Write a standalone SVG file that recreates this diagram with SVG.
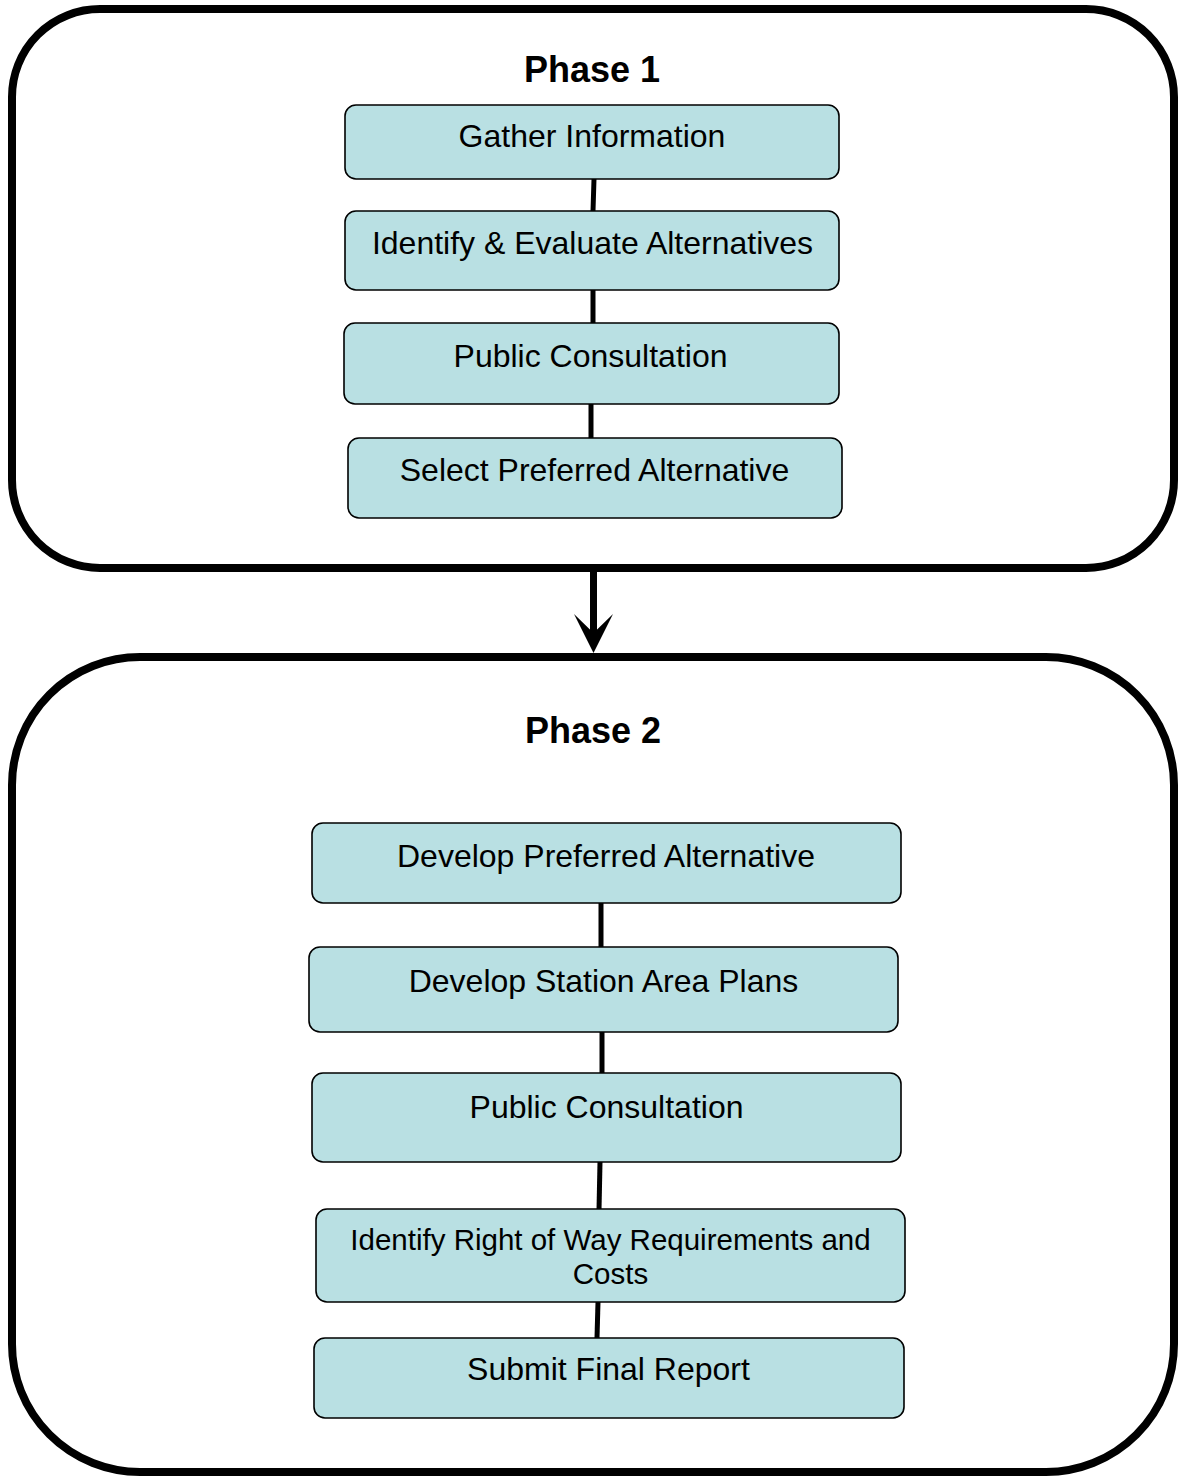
<svg xmlns="http://www.w3.org/2000/svg" width="1178" height="1477" viewBox="0 0 1178 1477">
<style>
.phase{fill:#ffffff;stroke:#000000;stroke-width:8}
.node rect{fill:#B9E0E3;stroke:#000000;stroke-width:1.6}
.lbl{font-family:"Liberation Sans",Arial,sans-serif;font-size:32px;fill:#000000;text-anchor:middle}
.small{font-size:29.5px}
.title{font-family:"Liberation Sans",Arial,sans-serif;font-size:36px;font-weight:bold;fill:#000000;text-anchor:middle}
.conn{stroke:#000000;stroke-width:5;fill:none}
</style>
<g id="phase1">
<rect class="phase" x="12" y="9" width="1162" height="559" rx="88" ry="88"/>
<text class="title" x="592" y="82">Phase 1</text>
</g>
<g id="phase2">
<rect class="phase" x="12" y="657" width="1162" height="815" rx="128" ry="128"/>
<text class="title" x="593" y="743">Phase 2</text>
</g>
<g id="connectors">
<line class="conn" x1="594" y1="179" x2="593" y2="211"/>
<line class="conn" x1="593" y1="290" x2="593" y2="323"/>
<line class="conn" x1="591" y1="404" x2="591" y2="438"/>
<line class="conn" x1="601" y1="903" x2="601" y2="947"/>
<line class="conn" x1="602" y1="1032" x2="602" y2="1075"/>
<line class="conn" x1="600" y1="1162" x2="599" y2="1210"/>
<line class="conn" x1="598" y1="1302" x2="597" y2="1338"/>
<line x1="593.5" y1="572" x2="593.5" y2="640" stroke="#000000" stroke-width="7"/>
<path d="M593.5,653 L574,614 L593.5,633 L613,614 Z" fill="#000000"/>
</g>
<g id="n1" class="node">
<rect x="345" y="105" width="494" height="74" rx="11"/>
<text class="lbl" x="592" y="147">Gather Information</text>
</g>
<g id="n2" class="node">
<rect x="345" y="211" width="494" height="79" rx="11"/>
<text class="lbl" x="592.5" y="254">Identify &amp; Evaluate Alternatives</text>
</g>
<g id="n3" class="node">
<rect x="344" y="323" width="495" height="81" rx="11"/>
<text class="lbl" x="590.5" y="367">Public Consultation</text>
</g>
<g id="n4" class="node">
<rect x="348" y="438" width="494" height="80" rx="11"/>
<text class="lbl" x="594.5" y="481">Select Preferred Alternative</text>
</g>
<g id="n5" class="node">
<rect x="312" y="823" width="589" height="80" rx="11"/>
<text class="lbl" x="606" y="867">Develop Preferred Alternative</text>
</g>
<g id="n6" class="node">
<rect x="309" y="947" width="589" height="85" rx="11"/>
<text class="lbl" x="603.5" y="992">Develop Station Area Plans</text>
</g>
<g id="n7" class="node">
<rect x="312" y="1073" width="589" height="89" rx="11"/>
<text class="lbl" x="606.5" y="1118">Public Consultation</text>
</g>
<g id="n8" class="node">
<rect x="316" y="1209" width="589" height="93" rx="11"/>
<text class="lbl small" x="610.5" y="1250">Identify Right of Way Requirements and</text>
<text class="lbl small" x="610.5" y="1284">Costs</text>
</g>
<g id="n9" class="node">
<rect x="314" y="1338" width="590" height="80" rx="11"/>
<text class="lbl" x="608.5" y="1380">Submit Final Report</text>
</g>
</svg>
